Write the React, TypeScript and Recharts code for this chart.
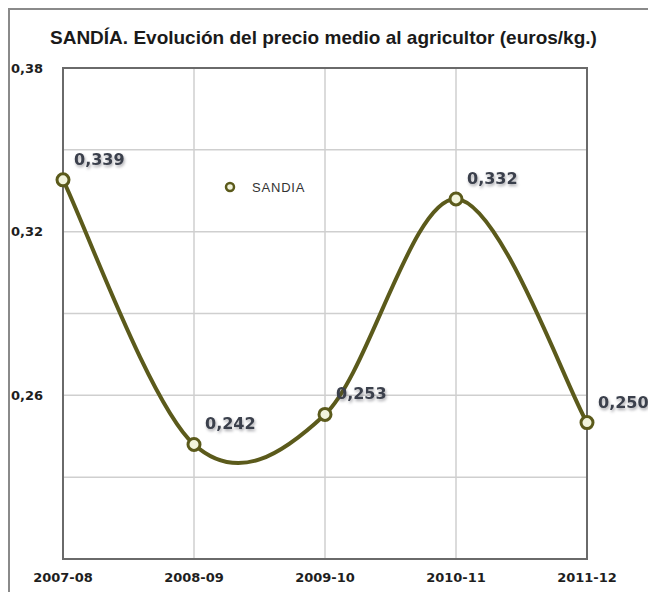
import { LineChart, Line, XAxis, YAxis, CartesianGrid, ReferenceArea, LabelList } from "recharts";

const campaigns = ["2007-08", "2008-09", "2009-10", "2010-11", "2011-12"];
const sandia = [0.339, 0.242, 0.253, 0.332, 0.25];
const yTicks = [0.2, 0.23, 0.26, 0.29, 0.32, 0.35, 0.38];
const yLabelled = [0.26, 0.32, 0.38];

const data = campaigns.map((c, i) => ({ campaign: c, SANDIA: sandia[i] }));

const OLIVE = "#5b5a1b";

const fmtComma = (v: number, digits: number) => v.toFixed(digits).replace(".", ",");

// spreadsheet-style smoothing (uniform Catmull-Rom as cubic beziers)
function smoothCurve(context: any) {
  let pts: number[][] = [];
  return {
    areaStart() {},
    areaEnd() {},
    lineStart() {
      pts = [];
    },
    point(x: number, y: number) {
      pts.push([+x, +y]);
    },
    lineEnd() {
      if (!pts.length) return;
      context.moveTo(pts[0][0], pts[0][1]);
      for (let i = 0; i < pts.length - 1; i++) {
        const p0 = pts[i - 1] || pts[i];
        const p1 = pts[i];
        const p2 = pts[i + 1];
        const p3 = pts[i + 2] || pts[i + 1];
        context.bezierCurveTo(
          p1[0] + (p2[0] - p0[0]) / 6,
          p1[1] + (p2[1] - p0[1]) / 6,
          p2[0] - (p3[0] - p1[0]) / 6,
          p2[1] - (p3[1] - p1[1]) / 6,
          p2[0],
          p2[1]
        );
      }
    },
  };
}

function ValueLabel(props: any) {
  const { x, y, value } = props;
  return (
    <text
      x={x + 11}
      y={y - 15}
      fontSize={16}
      fontWeight="bold"
      fontFamily="DejaVu Sans, Verdana, sans-serif"
      fill="#3b404c"
      style={{ filter: "drop-shadow(1px 2px 1.5px rgba(60,60,70,0.45))" }}
    >
      {fmtComma(value, 3)}
    </text>
  );
}

export default function App() {
  return (
    <div
      style={{
        position: "relative",
        width: 648,
        height: 584,
        borderTop: "2px solid #8a8a8a",
        borderLeft: "2px solid #8a8a8a",
        boxSizing: "border-box",
        background: "#fff",
      }}
    >
      <div
        style={{
          position: "absolute",
          left: 40,
          top: 17,
          width: 580,
          fontSize: 19,
          fontWeight: "bold",
          fontFamily: "Liberation Sans, Arial, sans-serif",
          color: "#1a1a1a",
          whiteSpace: "nowrap",
          lineHeight: "22px",
        }}
      >
        SANDÍA. Evolución del precio medio al agricultor (euros/kg.)
      </div>
      <div style={{ position: "absolute", left: -2, top: -2 }}>
        <LineChart
          width={648}
          height={584}
          data={data}
          margin={{ top: 60, right: 69, left: 0, bottom: 8 }}
          style={{ overflow: "visible" }}
        >
          <CartesianGrid stroke="#cfcfcf" strokeWidth={1.5} />
          <XAxis
            dataKey="campaign"
            axisLine={false}
            tickLine={false}
            tickMargin={8}
            height={25}
            interval={0}
            tick={{ fontSize: 13, fontWeight: "bold", fill: "#1e1e1e", fontFamily: "DejaVu Sans, sans-serif" }}
          />
          <YAxis
            type="number"
            domain={[0.2, 0.38]}
            ticks={yTicks}
            width={55}
            axisLine={false}
            tickLine={false}
            tickMargin={14}
            interval={0}
            tickFormatter={(v: number) => (yLabelled.some((t) => Math.abs(t - v) < 1e-9) ? fmtComma(v, 2) : "")}
            tick={{ fontSize: 13, fontWeight: "bold", fill: "#1e1e1e", fontFamily: "DejaVu Sans, sans-serif" }}
          />
          <ReferenceArea
            x1="2007-08"
            x2="2011-12"
            y1={0.2}
            y2={0.38}
            fill="none"
            fillOpacity={0}
            stroke="#6a6a6a"
            strokeWidth={2}
            ifOverflow="visible"
          />
          <Line
            type={smoothCurve as any}
            dataKey="SANDIA"
            stroke={OLIVE}
            strokeWidth={4}
            dot={{ r: 6, stroke: OLIVE, strokeWidth: 3, fill: "#f2f4dc" }}
            activeDot={false}
            isAnimationActive={false}
          >
            <LabelList dataKey="SANDIA" content={<ValueLabel />} />
          </Line>
        </LineChart>
      </div>
      <svg width={100} height={20} style={{ position: "absolute", left: 212, top: 168 }}>
        <circle cx={8} cy={9} r={4} fill="#f2f4dc" stroke={OLIVE} strokeWidth={2.5} />
        <text x={30} y={14} fontSize={13} letterSpacing={0.8} fontFamily="Liberation Sans, Arial, sans-serif" fill="#333">
          SANDIA
        </text>
      </svg>
    </div>
  );
}
